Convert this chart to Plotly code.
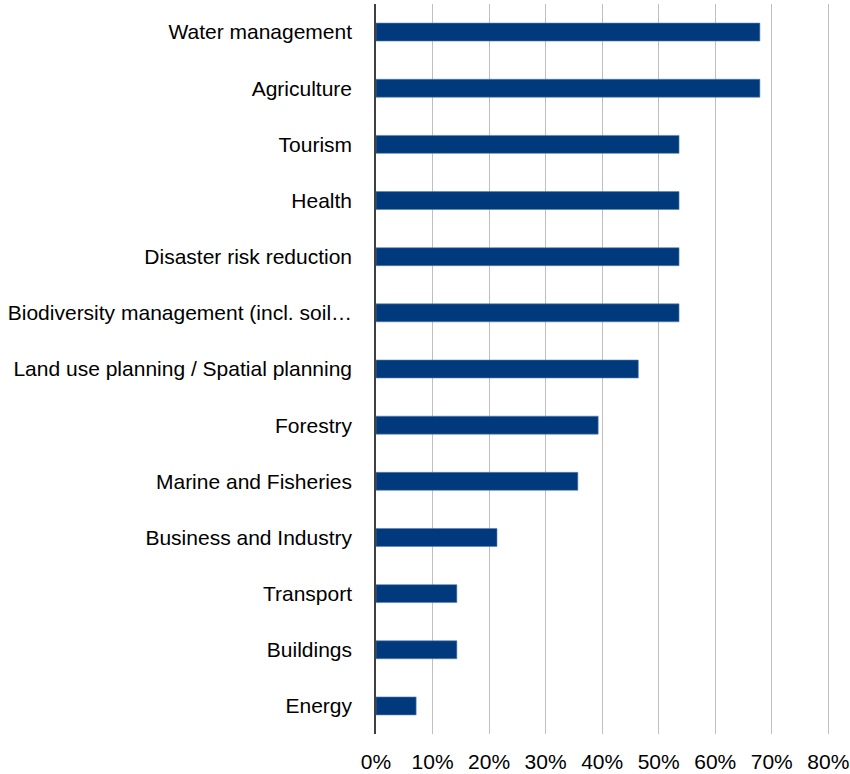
import plotly.graph_objects as go

# Share of plans covering each sector (fraction of total)
sectors = [
    "Water management",
    "Agriculture",
    "Tourism",
    "Health",
    "Disaster risk reduction",
    "Biodiversity management (incl. soil…",
    "Land use planning / Spatial planning",
    "Forestry",
    "Marine and Fisheries",
    "Business and Industry",
    "Transport",
    "Buildings",
    "Energy",
]
shares = [0.679, 0.679, 0.536, 0.536, 0.536, 0.536, 0.464, 0.393, 0.357, 0.214, 0.143, 0.143, 0.071]

tick_vals = [0, 0.1, 0.2, 0.3, 0.4, 0.5, 0.6, 0.7, 0.8]
tick_text = ["0%", "10%", "20%", "30%", "40%", "50%", "60%", "70%", "80%"]

fig = go.Figure(
    go.Bar(
        x=shares,
        y=sectors,
        orientation="h",
        marker=dict(color="#003A7D", line=dict(color="#5B7FB0", width=0.6)),
    )
)

fig.update_layout(
    width=850,
    height=774,
    margin=dict(l=376, r=20, t=4, b=40),
    paper_bgcolor="white",
    plot_bgcolor="white",
    font=dict(family="Liberation Sans, Arial, sans-serif", size=21, color="#000000"),
    bargap=0.68,
    showlegend=False,
    xaxis=dict(
        range=[0, 0.803],
        tickvals=tick_vals,
        ticktext=tick_text,
        showgrid=True,
        gridcolor="#BFBFBF",
        gridwidth=1,
        zeroline=False,
        showline=False,
        ticks="",
        ticklabelstandoff=13,
        automargin=False,
    ),
    yaxis=dict(
        categoryorder="array",
        categoryarray=sectors[::-1],
        showgrid=False,
        zeroline=False,
        showline=True,
        linecolor="#404040",
        linewidth=1.5,
        ticks="",
        ticklabelstandoff=18,
        automargin=False,
    ),
)

fig.write_html("out.html")
